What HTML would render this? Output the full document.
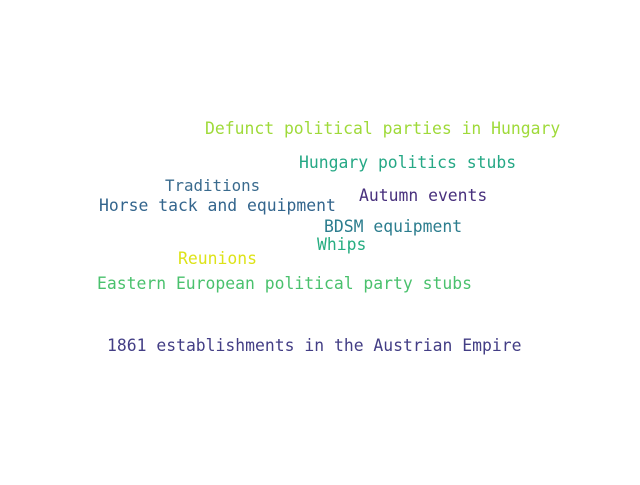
<!DOCTYPE html>
<html><head><meta charset="utf-8"><style>
html,body{margin:0;padding:0;background:#fff}
svg text{font-family:"DejaVu Sans Mono","Liberation Mono",monospace;font-size:16.4px}
</style></head><body>
<svg width="640" height="480">
<rect width="640" height="480" fill="#fff"/>
<text x="205" y="134" fill="#9fda3a">Defunct political parties in Hungary</text>
<text x="299" y="168" fill="#25a885">Hungary politics stubs</text>
<text x="165" y="191" fill="#3a6b8e" style="font-size:15.8px">Traditions</text>
<text x="99" y="211" fill="#33658d">Horse tack and equipment</text>
<text x="359" y="201" fill="#48307d">Autumn events</text>
<text x="324" y="232" fill="#2c7d8e">BDSM equipment</text>
<text x="317" y="250" fill="#27ad81">Whips</text>
<text x="178" y="264" fill="#dde318">Reunions</text>
<text x="97" y="289" fill="#4ac16d">Eastern European political party stubs</text>
<text x="107" y="351" fill="#433e85">1861 establishments in the Austrian Empire</text>
</svg>
</body></html>
